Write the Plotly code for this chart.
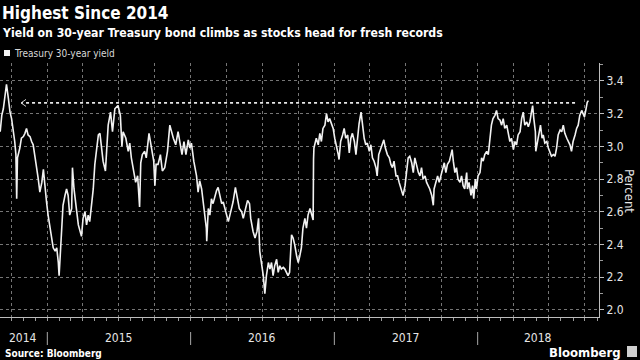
import plotly.graph_objects as go
from datetime import date, timedelta

TITLE = "Highest Since 2014"
SUBTITLE = "Yield on 30-year Treasury bond climbs as stocks head for fresh records"
SERIES_NAME = "Treasury 30-year yield"
SOURCE = "Source: Bloomberg"
Y_TITLE = "Percent"
BRAND = "Bloomberg"

DATES_2014 = ["2014-09-03", "2014-09-07", "2014-09-11", "2014-09-15", "2014-09-19", "2014-09-24",
              "2014-09-28", "2014-10-02", "2014-10-06", "2014-10-10", "2014-10-13", "2014-10-15",
              "2014-10-17", "2014-10-20", "2014-10-23", "2014-10-27", "2014-11-01", "2014-11-05",
              "2014-11-09", "2014-11-13", "2014-11-18", "2014-11-22", "2014-11-26", "2014-12-01",
              "2014-12-05", "2014-12-09", "2014-12-13", "2014-12-18", "2014-12-22", "2014-12-26",
              "2014-12-30"]
YIELD_2014 = [3.09, 3.19, 3.23, 3.31, 3.38, 3.29, 3.21, 3.17, 3.11, 3.03, 2.95, 2.68,
              2.93, 2.96, 2.99, 3.05, 3.06, 3.08, 3.11, 3.07, 3.06, 3.03, 3.01, 2.93,
              2.87, 2.80, 2.72, 2.78, 2.86, 2.74, 2.66]

DATES_2015 = ["2015-01-03", "2015-01-08", "2015-01-12", "2015-01-16", "2015-01-21", "2015-01-25",
              "2015-01-29", "2015-01-31", "2015-02-04", "2015-02-07", "2015-02-10", "2015-02-15",
              "2015-02-19", "2015-02-23", "2015-02-27", "2015-03-04", "2015-03-06", "2015-03-10",
              "2015-03-13", "2015-03-16", "2015-03-21", "2015-03-25", "2015-03-29", "2015-04-02",
              "2015-04-07", "2015-04-11", "2015-04-15", "2015-04-19", "2015-04-24", "2015-04-28",
              "2015-05-02", "2015-05-06", "2015-05-11", "2015-05-15", "2015-05-19", "2015-05-23",
              "2015-05-29", "2015-06-05", "2015-06-11", "2015-06-16", "2015-06-22", "2015-06-30",
              "2015-07-06", "2015-07-10", "2015-07-13", "2015-07-20", "2015-07-26", "2015-07-30",
              "2015-08-03", "2015-08-08", "2015-08-14", "2015-08-19", "2015-08-21", "2015-08-24",
              "2015-08-27", "2015-08-31", "2015-09-06", "2015-09-10", "2015-09-17", "2015-09-23",
              "2015-09-29", "2015-10-02", "2015-10-05", "2015-10-10", "2015-10-16", "2015-10-21",
              "2015-10-27", "2015-11-03", "2015-11-09", "2015-11-18", "2015-11-24", "2015-11-30",
              "2015-12-05", "2015-12-10", "2015-12-15", "2015-12-20", "2015-12-26", "2015-12-30"]
YIELD_2015 = [2.58, 2.50, 2.46, 2.38, 2.36, 2.38, 2.29, 2.21, 2.38, 2.54, 2.64, 2.70,
              2.74, 2.70, 2.58, 2.62, 2.87, 2.74, 2.66, 2.62, 2.52, 2.48, 2.45, 2.56,
              2.60, 2.52, 2.58, 2.54, 2.66, 2.74, 2.89, 2.97, 3.07, 3.08, 3.01, 2.91,
              2.85, 3.13, 3.21, 3.09, 3.23, 3.25, 3.19, 3.00, 3.09, 3.05, 2.97, 3.02,
              2.93, 2.87, 2.78, 2.82, 2.72, 2.63, 2.90, 2.95, 2.97, 2.93, 3.08, 2.99,
              2.91, 2.76, 2.89, 2.89, 2.95, 2.85, 2.87, 2.97, 3.13, 3.05, 3.01, 3.09,
              3.01, 2.95, 3.03, 2.95, 3.04, 2.99]

DATES_2016 = ["2016-01-03", "2016-01-09", "2016-01-16", "2016-01-20", "2016-01-24", "2016-01-29",
              "2016-02-02", "2016-02-06", "2016-02-10", "2016-02-11", "2016-02-15", "2016-02-19",
              "2016-02-23", "2016-02-27", "2016-03-03", "2016-03-07", "2016-03-11", "2016-03-16",
              "2016-03-20", "2016-03-24", "2016-03-28", "2016-04-01", "2016-04-06", "2016-04-10",
              "2016-04-14", "2016-04-18", "2016-04-24", "2016-04-29", "2016-05-04", "2016-05-10",
              "2016-05-14", "2016-05-20", "2016-05-25", "2016-05-30", "2016-06-02", "2016-06-08",
              "2016-06-13", "2016-06-18", "2016-06-22", "2016-06-25", "2016-06-30", "2016-07-04",
              "2016-07-08", "2016-07-12", "2016-07-17", "2016-07-21", "2016-07-25", "2016-07-29",
              "2016-08-02", "2016-08-07", "2016-08-11", "2016-08-15", "2016-08-19", "2016-08-24",
              "2016-08-28", "2016-09-01", "2016-09-05", "2016-09-09", "2016-09-14", "2016-09-18",
              "2016-09-22", "2016-09-27", "2016-10-01", "2016-10-05", "2016-10-09", "2016-10-13",
              "2016-10-18", "2016-10-22", "2016-10-26", "2016-10-31", "2016-11-04", "2016-11-08",
              "2016-11-09", "2016-11-10", "2016-11-16", "2016-11-21", "2016-11-25", "2016-11-29",
              "2016-12-03", "2016-12-08", "2016-12-12", "2016-12-16", "2016-12-20", "2016-12-25",
              "2016-12-29"]
YIELD_2016 = [3.02, 2.91, 2.82, 2.72, 2.79, 2.74, 2.66, 2.58, 2.50, 2.42, 2.62, 2.58,
              2.68, 2.65, 2.70, 2.73, 2.75, 2.69, 2.65, 2.66, 2.62, 2.59, 2.54, 2.58,
              2.62, 2.66, 2.75, 2.68, 2.62, 2.60, 2.56, 2.62, 2.67, 2.65, 2.56, 2.48,
              2.44, 2.48, 2.56, 2.36, 2.27, 2.21, 2.10, 2.21, 2.29, 2.25, 2.29, 2.21,
              2.27, 2.31, 2.23, 2.27, 2.25, 2.26, 2.25, 2.23, 2.21, 2.23, 2.46, 2.44,
              2.40, 2.33, 2.29, 2.33, 2.38, 2.50, 2.56, 2.50, 2.58, 2.62, 2.58, 2.55,
              2.92, 2.99, 3.05, 3.01, 3.08, 3.03, 3.11, 3.13, 3.20, 3.15, 3.17, 3.13,
              3.11]

DATES_2017 = ["2017-01-02", "2017-01-07", "2017-01-11", "2017-01-13", "2017-01-17", "2017-01-22",
              "2017-01-26", "2017-01-30", "2017-02-04", "2017-02-08", "2017-02-12", "2017-02-16",
              "2017-02-21", "2017-02-25", "2017-03-01", "2017-03-05", "2017-03-10", "2017-03-14",
              "2017-03-18", "2017-03-22", "2017-03-26", "2017-03-31", "2017-04-04", "2017-04-08",
              "2017-04-12", "2017-04-17", "2017-04-20", "2017-04-24", "2017-04-29", "2017-05-03",
              "2017-05-07", "2017-05-11", "2017-05-16", "2017-05-21", "2017-05-25", "2017-05-29",
              "2017-06-02", "2017-06-07", "2017-06-11", "2017-06-15", "2017-06-21", "2017-06-25",
              "2017-06-30", "2017-07-04", "2017-07-08", "2017-07-12", "2017-07-17", "2017-07-21",
              "2017-07-25", "2017-07-29", "2017-08-03", "2017-08-07", "2017-08-11", "2017-08-15",
              "2017-08-20", "2017-08-24", "2017-08-28", "2017-09-01", "2017-09-06", "2017-09-10",
              "2017-09-12", "2017-09-17", "2017-09-21", "2017-09-25", "2017-09-29", "2017-10-04",
              "2017-10-08", "2017-10-12", "2017-10-16", "2017-10-21", "2017-10-25", "2017-10-28",
              "2017-10-31", "2017-11-04", "2017-11-08", "2017-11-12", "2017-11-17", "2017-11-21",
              "2017-11-25", "2017-11-29", "2017-12-04", "2017-12-06", "2017-12-10", "2017-12-15",
              "2017-12-19", "2017-12-22", "2017-12-26", "2017-12-29"]
YIELD_2017 = [3.05, 3.00, 2.95, 2.92, 3.03, 3.07, 3.11, 3.05, 3.07, 2.96, 3.05, 3.08,
              3.03, 2.95, 3.07, 3.14, 3.21, 3.13, 3.05, 3.01, 3.02, 2.97, 3.01, 2.93,
              2.91, 2.87, 2.82, 2.95, 2.99, 3.01, 3.04, 2.99, 2.95, 2.93, 2.89, 2.87,
              2.91, 2.82, 2.82, 2.78, 2.74, 2.70, 2.76, 2.84, 2.93, 2.94, 2.90, 2.84,
              2.93, 2.89, 2.84, 2.82, 2.87, 2.80, 2.82, 2.78, 2.76, 2.74, 2.70, 2.64,
              2.74, 2.78, 2.82, 2.78, 2.82, 2.87, 2.90, 2.84, 2.89, 2.91, 2.95, 2.98,
              2.91, 2.84, 2.87, 2.80, 2.78, 2.82, 2.76, 2.74, 2.84, 2.74, 2.78, 2.70,
              2.76, 2.68, 2.80, 2.74]

DATES_2018 = ["2018-01-02", "2018-01-07", "2018-01-11", "2018-01-15", "2018-01-19", "2018-01-24",
              "2018-01-28", "2018-02-01", "2018-02-05", "2018-02-09", "2018-02-14", "2018-02-18",
              "2018-02-22", "2018-02-27", "2018-03-03", "2018-03-07", "2018-03-11", "2018-03-16",
              "2018-03-20", "2018-03-24", "2018-03-28", "2018-04-02", "2018-04-06", "2018-04-10",
              "2018-04-14", "2018-04-19", "2018-04-23", "2018-04-27", "2018-05-01", "2018-05-06",
              "2018-05-10", "2018-05-14", "2018-05-18", "2018-05-21", "2018-05-24", "2018-05-28",
              "2018-05-29", "2018-06-02", "2018-06-07", "2018-06-10", "2018-06-14", "2018-06-17",
              "2018-06-21", "2018-06-26", "2018-06-30", "2018-07-04", "2018-07-08", "2018-07-13",
              "2018-07-17", "2018-07-21", "2018-07-25", "2018-07-30", "2018-08-03", "2018-08-07",
              "2018-08-11", "2018-08-16", "2018-08-20", "2018-08-24", "2018-08-28", "2018-09-01",
              "2018-09-06", "2018-09-10", "2018-09-14", "2018-09-18", "2018-09-23", "2018-09-27",
              "2018-09-30", "2018-10-04", "2018-10-07", "2018-10-10"]
YIELD_2018 = [2.82, 2.84, 2.93, 2.91, 2.95, 2.97, 2.95, 3.05, 3.13, 3.17, 3.19, 3.22,
              3.17, 3.16, 3.13, 3.17, 3.11, 3.13, 3.07, 3.03, 3.05, 2.98, 3.03, 3.01,
              3.07, 3.09, 3.17, 3.21, 3.13, 3.15, 3.12, 3.15, 3.21, 3.25, 3.17, 3.09,
              2.97, 3.03, 3.08, 3.13, 3.05, 3.07, 3.02, 3.03, 2.99, 2.96, 2.94, 2.95,
              2.94, 2.99, 3.07, 3.10, 3.09, 3.13, 3.08, 3.05, 3.03, 3.01, 2.97, 3.03,
              3.07, 3.11, 3.13, 3.19, 3.22, 3.19, 3.18, 3.23, 3.27, 3.28]

YEAR_LABELS = ["2014", "2015", "2016", "2017", "2018"]
Y_TICKS = [2.0, 2.2, 2.4, 2.6, 2.8, 3.0, 3.2, 3.4]
Y_RANGE = [1.957, 3.51]
X_RANGE = ["2014-09-02 12:00", "2018-11-06"]

# Arrow marking the 2014 high level
ARROW_LEVEL = 3.266
ARROW_FROM = "2018-09-06"
ARROW_TO = "2014-10-26"

dates = DATES_2014 + DATES_2015 + DATES_2016 + DATES_2017 + DATES_2018
yields = YIELD_2014 + YIELD_2015 + YIELD_2016 + YIELD_2017 + YIELD_2018

W, H = 640, 360
ML, MR, MT, MB = 0, 41, 63, 43
PW, PH = W - ML - MR, H - MT - MB


def px_x(x):
    return (x - ML) / PW


def px_y(y):
    return (H - MB - y) / PH


FONT = "DejaVu Sans Condensed, DejaVu Sans, sans-serif"

fig = go.Figure()
fig.add_trace(go.Scatter(x=dates, y=yields, mode="lines",
                         line=dict(color="#f2f2f2", width=1.6), name=SERIES_NAME,
                         showlegend=False, hoverinfo="skip"))

fig.update_layout(
    width=W, height=H,
    margin=dict(l=ML, r=MR, t=MT, b=MB, pad=0),
    paper_bgcolor="#000000", plot_bgcolor="#000000",
    font=dict(family=FONT, color="#e6e6e6", size=12),
    xaxis=dict(
        type="date", range=X_RANGE, showticklabels=False,
        tick0="2014-01-01", dtick="M3",
        showgrid=True, gridcolor="#757575", griddash="dot", gridwidth=1,
        ticks="outside", ticklen=3, tickcolor="#9a9a9a",
        minor=dict(dtick="M1", tick0="2014-01-01", ticks="outside", ticklen=3,
                   tickcolor="#9a9a9a", showgrid=False),
        showline=True, linecolor="#bdbdbd", linewidth=1,
        zeroline=False, fixedrange=True,
    ),
    yaxis=dict(
        side="right", range=Y_RANGE, tickvals=Y_TICKS,
        ticktext=[f"{v:.1f}" for v in Y_TICKS],
        showgrid=True, gridcolor="#757575", griddash="dot", gridwidth=1,
        ticks="outside", ticklen=4, tickcolor="#bdbdbd",
        minor=dict(dtick=0.1, tick0=0, ticks="outside", ticklen=3, tickcolor="#9a9a9a",
                   showgrid=False),
        showline=True, linecolor="#bdbdbd", linewidth=1,
        tickfont=dict(family=FONT, size=12, color="#e6e6e6"),
        zeroline=False, fixedrange=True,
    ),
)

shapes = []
# dotted level line + arrow head
shapes.append(dict(type="line", xref="x", yref="y", x0=ARROW_FROM, x1=ARROW_TO,
                   y0=ARROW_LEVEL, y1=ARROW_LEVEL,
                   line=dict(color="#e8e8e8", width=1.6, dash="dot")))
for s in (1, -1):
    shapes.append(dict(type="line", xref="x", yref="y", xsizemode="pixel", ysizemode="pixel",
                       xanchor=ARROW_TO, yanchor=ARROW_LEVEL, x0=0, x1=5, y0=0, y1=3.5 * s,
                       line=dict(color="#cfcfcf", width=1)))

# year separators and labels below the axis
x_start = date(2014, 9, 2)
x_end = date(2018, 11, 6)
annotations = []
for lab in YEAR_LABELS:
    yr = int(lab)
    ys = max(date(yr, 1, 1), x_start)
    ye = min(date(yr + 1, 1, 1), x_end)
    mid = ys + timedelta(days=(ye - ys).days / 2)
    annotations.append(dict(text=lab, x=mid.isoformat(), xref="x", yref="paper",
                            y=px_y(338), yanchor="middle", xanchor="center", showarrow=False,
                            font=dict(family=FONT, size=12, color="#e6e6e6")))
    if date(yr, 1, 1) > x_start:
        shapes.append(dict(type="line", xref="x", yref="paper",
                           x0=date(yr, 1, 1).isoformat(), x1=date(yr, 1, 1).isoformat(),
                           y0=px_y(332), y1=px_y(345),
                           line=dict(color="#a8a8a8", width=1)))

# legend swatch
shapes.append(dict(type="rect", xref="paper", yref="paper",
                   x0=px_x(4), x1=px_x(10), y0=px_y(56), y1=px_y(50),
                   fillcolor="#f2f2f2", line=dict(width=0)))
# brand icon
shapes.append(dict(type="rect", xref="paper", yref="paper",
                   x0=px_x(627), x1=px_x(637), y0=px_y(357), y1=px_y(346),
                   fillcolor="#d0d0d0", line=dict(width=0)))

annotations += [
    dict(text=f"<b>{TITLE}</b>", x=px_x(0), y=px_y(13), xref="paper", yref="paper",
         xanchor="left", yanchor="middle", showarrow=False,
         font=dict(family=FONT, size=17, color="#ffffff")),
    dict(text=f"<b>{SUBTITLE}</b>", x=px_x(0), y=px_y(33), xref="paper", yref="paper",
         xanchor="left", yanchor="middle", showarrow=False,
         font=dict(family=FONT, size=12.2, color="#ffffff")),
    dict(text=SERIES_NAME, x=px_x(12), y=px_y(53), xref="paper", yref="paper",
         xanchor="left", yanchor="middle", showarrow=False,
         font=dict(family=FONT, size=10, color="#d8d8d8")),
    dict(text=Y_TITLE, x=px_x(630), y=px_y(191), xref="paper", yref="paper",
         xanchor="center", yanchor="middle", showarrow=False, textangle=90,
         font=dict(family=FONT, size=13, color="#e6e6e6")),
    dict(text=f"<b>{SOURCE}</b>", x=px_x(3), y=px_y(353), xref="paper", yref="paper",
         xanchor="left", yanchor="middle", showarrow=False,
         font=dict(family=FONT, size=10, color="#ffffff")),
    dict(text=f"<b>{BRAND}</b>", x=px_x(623), y=px_y(352), xref="paper", yref="paper",
         xanchor="right", yanchor="middle", showarrow=False,
         font=dict(family=FONT, size=13, color="#ffffff")),
]

fig.update_layout(shapes=shapes, annotations=annotations)
fig.write_html("out.html", config={"displayModeBar": False},
               post_script="document.body.style.margin='0';")
